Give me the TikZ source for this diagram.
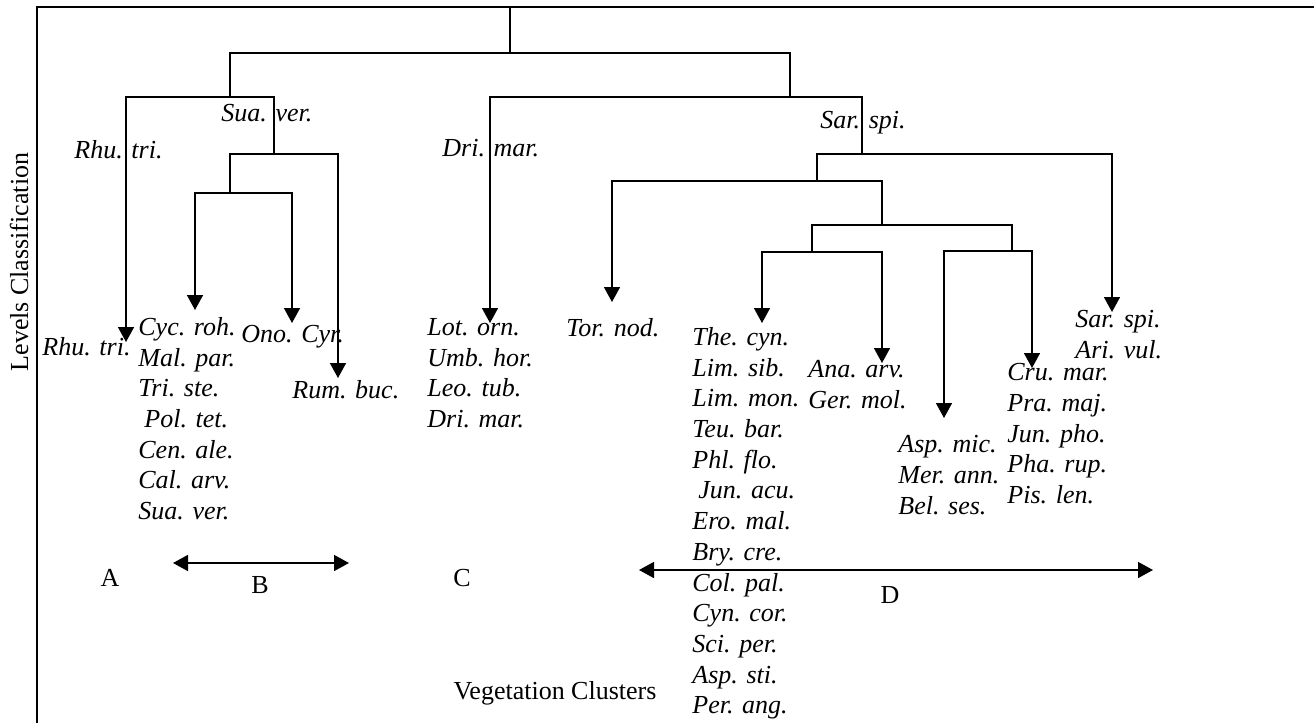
\documentclass[tikz,border=0pt]{standalone}
\usepackage{fontspec}
\setmainfont{Liberation Serif}
\usetikzlibrary{arrows.meta}

\newcommand{\plainsize}{\fontsize{13}{15.35}\selectfont}

\tikzset{
  link/.style={line width=0.8pt},
  tip/.style={link,-{Triangle[width=8pt,length=7.5pt]}},
  tips/.style={link,{Triangle[width=8pt,length=7.5pt]}-{Triangle[width=8pt,length=7.5pt]}},
  sp/.style={font=\plainsize\itshape,inner sep=0pt,anchor=west},
  splist/.style={font=\plainsize\itshape,inner sep=0pt,align=left,anchor=north west},
  grp/.style={font=\plainsize,inner sep=0pt}
}

\begin{document}
\begin{tikzpicture}[x=0.5pt,y=-0.5pt]
	\useasboundingbox (0,0) rectangle (1314,723);
	% frame
	\draw[line width=1.2pt] (37,723) -- (37,7) -- (1314,7);
	\node[grp,rotate=90] (lev) at (19,262) {Levels Classification};

	% branch points
	\coordinate (top) at (510,7);
	\coordinate (r) at (510,53);
	\coordinate (a) at (230,97);
	\coordinate (b) at (790,97);
	\coordinate (a1) at (274,154);
	\coordinate (a2) at (230,193);
	\coordinate (b1) at (862,154);
	\coordinate (b2) at (817,181);
	\coordinate (b3) at (882,225);
	\coordinate (b4) at (812,252);
	\coordinate (b5) at (1012,251);
	% arrow ends
	\coordinate (rhu) at (126,342);
	\coordinate (cyc) at (195,310);
	\coordinate (ono) at (292,323);
	\coordinate (rum) at (338,378);
	\coordinate (lot) at (490,323);
	\coordinate (tor) at (612,302);
	\coordinate (the) at (762,323);
	\coordinate (ana) at (882,363);
	\coordinate (asp) at (944,418);
	\coordinate (cru) at (1032,368);
	\coordinate (sar) at (1112,312);

	% tree
	\draw[link] (top) -- (r);
	\draw[link] (a) |- (r) -| (b);
	\draw[tip] (a1) |- (rhu |- a) -- (rhu);
	\draw[tip] (a2) |- (rum |- a1) -- (rum);
	\draw[tips] (cyc) |- (ono |- a2) -- (ono);
	\draw[tip] (b1) |- (lot |- b) -- (lot);
	\draw[tip] (b2) |- (sar |- b1) -- (sar);
	\draw[tip] (b3) |- (tor |- b2) -- (tor);
	\draw[link] (b4) |- (b5 |- b3) -- (b5);
	\draw[tips] (the) |- (ana |- b4) -- (ana);
	\draw[tips] (asp) |- (cru |- b5) -- (cru);

	% branch labels
	\node[sp] (suav) at (221,113) {Sua. ver.};
	\node[sp] (rhut) at (74,150) {Rhu. tri.};
	\node[sp] (drim) at (442,148) {Dri. mar.};
	\node[sp] (sars) at (820,123) {Sar. spi.};

	% species
	\node[sp] (rhu1) at (42,347) {Rhu. tri.};
	\node[splist] (cycl) at (138,317) {Cyc. roh.\\Mal. par.\\Tri. ste.\\\hspace{3pt}Pol. tet.\\Cen. ale.\\Cal. arv.\\Sua. ver.};
	\node[sp] (onoc) at (241,337) {Ono. Cyr.};
	\node[sp] (rumb) at (292,390) {Rum. buc.};
	\node[splist] (lotl) at (427,318) {Lot. orn.\\Umb. hor.\\Leo. tub.\\Dri. mar.};
	\node[sp] (torn) at (566,328) {Tor. nod.};
	\node[splist] (thel) at (692,327) {The. cyn.\\Lim. sib.\\Lim. mon.\\Teu. bar.\\Phl. flo.\\\hspace{3pt}Jun. acu.\\Ero. mal.\\Bry. cre.\\Col. pal.\\Cyn. cor.\\Sci. per.\\Asp. sti.\\Per. ang.};
	\node[splist] (anal) at (808,360) {Ana. arv.\\Ger. mol.};
	\node[splist] (aspl) at (898,435) {Asp. mic.\\Mer. ann.\\Bel. ses.};
	\node[splist] (crul) at (1007,363) {Cru. mar.\\Pra. maj.\\Jun. pho.\\Pha. rup.\\Pis. len.};
	\node[splist] (sarl) at (1075,310) {Sar. spi.\\Ari. vul.};

	% clusters
	\coordinate (bl) at (173,563);
	\coordinate (br) at (349,563);
	\coordinate (dl) at (639,570);
	\coordinate (dr) at (1153,570);
	\draw[tips] (bl) -- (br);
	\draw[tips] (dl) -- (dr);
	\node[grp] (ca) at (110,578) {A};
	\node[grp] (cb) at (260,585) {B};
	\node[grp] (cc) at (462,578) {C};
	\node[grp] (cd) at (890,595) {D};
	\node[grp] (veg) at (555,693) {Vegetation Clusters};
\end{tikzpicture}
\end{document}
